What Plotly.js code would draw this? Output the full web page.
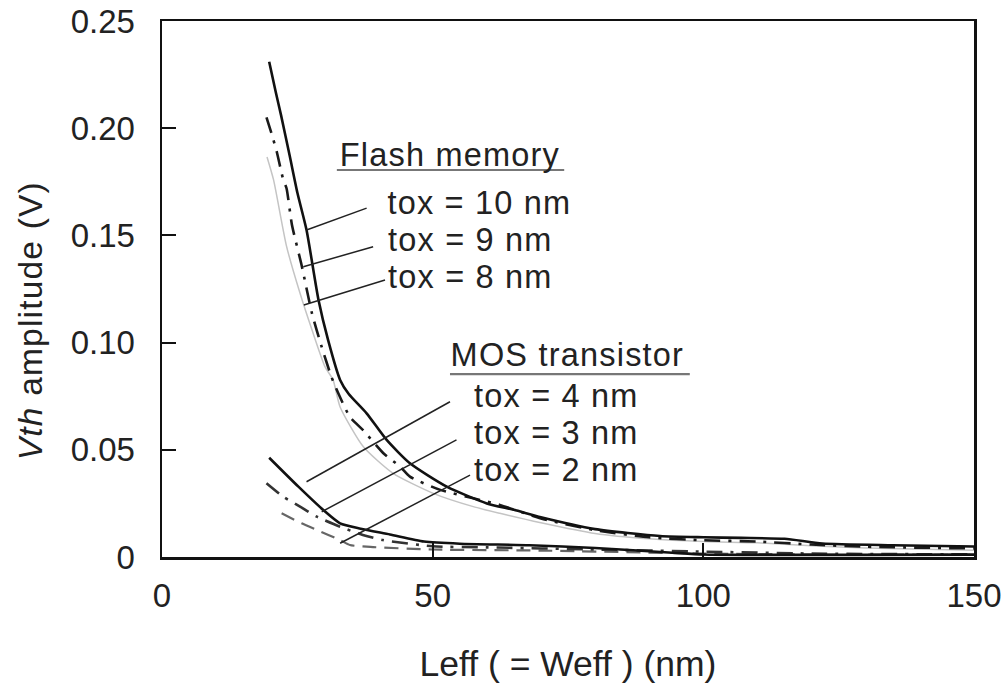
<!DOCTYPE html>
<html>
<head>
<meta charset="utf-8">
<script src="https://cdn.plot.ly/plotly-3.0.1.min.js"></script>
<style>
html,body{margin:0;padding:0;background:#fff;}
#chart{width:1005px;height:684px;}
#chart .annotation-text{letter-spacing:1.2px;}
</style>
</head>
<body>
<div id="chart"></div>
<script>
// Flash memory curves
const flash10_x = [19.8, 21, 22, 23.6, 25, 26.7, 28.9, 30.7, 32.9, 34.5, 37.8, 41.5, 45.8, 52.6, 60, 65, 70, 80, 92, 100, 107, 115, 122, 135, 150];
const flash10_y = [0.231, 0.217, 0.206, 0.187, 0.170, 0.1525, 0.120, 0.101, 0.0826, 0.076, 0.067, 0.0546, 0.0437, 0.0328, 0.025, 0.022, 0.0185, 0.013, 0.0098, 0.0092, 0.0089, 0.0085, 0.0063, 0.0055, 0.0049];

const flash9_x = [19.3, 20.3, 21.2, 22.4, 23.0, 24.0, 25.8, 27.7, 29.5, 31.3, 32.3, 34.7, 37.2, 40.9, 44, 45.8, 51.4, 57.5, 62.4, 70, 80, 90, 100, 110, 120, 130, 150];
const flash9_y = [0.205, 0.197, 0.189, 0.176, 0.172, 0.155, 0.136, 0.1137, 0.098, 0.084, 0.0779, 0.0654, 0.059, 0.0484, 0.0421, 0.0375, 0.0313, 0.0274, 0.0243, 0.018, 0.0125, 0.0092, 0.0078, 0.0072, 0.0058, 0.0048, 0.0040];

const flash8_x = [19.4, 20.6, 23.0, 25.5, 27.7, 30.1, 31.6, 32.9, 37.2, 42.7, 50.1, 57.5, 62.4, 70, 80, 90, 100, 110, 120, 130, 150];
const flash8_y = [0.1866, 0.176, 0.145, 0.123, 0.106, 0.0888, 0.0826, 0.070, 0.0514, 0.039, 0.0297, 0.0235, 0.0204, 0.016, 0.011, 0.0085, 0.0072, 0.0066, 0.0052, 0.0042, 0.0032];

// MOS transistor curves
const mos4_x = [19.8, 25.2, 29.8, 32.9, 36.7, 42.1, 48.4, 55, 67.9, 80, 94.3, 100, 110, 130, 150];
const mos4_y = [0.0463, 0.0328, 0.0219, 0.0157, 0.0132, 0.0105, 0.0072, 0.0062, 0.0055, 0.0042, 0.0020, 0.0012, 0.0010, 0.0010, 0.0011];

const mos3_x = [19.3, 22.4, 25.5, 28.6, 32.9, 37.1, 40.8, 50, 60, 80, 100, 120, 150];
const mos3_y = [0.0344, 0.0281, 0.0235, 0.0188, 0.0141, 0.0103, 0.0079, 0.0050, 0.0045, 0.0035, 0.0025, 0.0016, 0.0012];

const mos2_x = [22.1, 25.8, 28.6, 32.9, 34.7, 37.8, 50, 70, 100, 120, 150];
const mos2_y = [0.0204, 0.0157, 0.0126, 0.0079, 0.0056, 0.0048, 0.0035, 0.0030, 0.0016, 0.0012, 0.0010];

const xTickVals = [0, 50, 100, 150];
const xTickText = ["0", "50", "100", "150"];
const yTickVals = [0, 0.05, 0.10, 0.15, 0.20, 0.25];
const yTickText = ["0", "0.05", "0.10", "0.15", "0.20", "0.25"];

const groupLabels = ["Flash memory", "MOS transistor"];
const seriesLabels = ["tox = 10 nm", "tox = 9 nm", "tox = 8 nm", "tox = 4 nm", "tox = 3 nm", "tox = 2 nm"];
const xTitle = "Leff ( = Weff ) (nm)";
const yTitle = "<i>Vth</i> amplitude (V)";

const FONT = "Liberation Sans, Arial, Helvetica, sans-serif";
const TXT = "#222";

const traces = [
  {x: flash8_x, y: flash8_y, mode: "lines", line: {color: "#c4c4c4", width: 1.5, shape: "spline", smoothing: 0.6}, name: seriesLabels[2]},
  {x: flash9_x, y: flash9_y, mode: "lines", line: {color: "#1a1a1a", width: 2.6, dash: "16px,8px,3px,8px", shape: "spline", smoothing: 0.6}, name: seriesLabels[1]},
  {x: flash10_x, y: flash10_y, mode: "lines", line: {color: "#111", width: 2.6, shape: "spline", smoothing: 0.6}, name: seriesLabels[0]},
  {x: mos2_x, y: mos2_y, mode: "lines", line: {color: "#666", width: 2.2, dash: "14px,8px", shape: "spline", smoothing: 0.6}, name: seriesLabels[5]},
  {x: mos3_x, y: mos3_y, mode: "lines", line: {color: "#333", width: 2.6, dash: "16px,8px,3px,8px", shape: "spline", smoothing: 0.6}, name: seriesLabels[4]},
  {x: mos4_x, y: mos4_y, mode: "lines", line: {color: "#111", width: 2.6, shape: "spline", smoothing: 0.6}, name: seriesLabels[3]}
];

const lf = {family: FONT, size: 32.5, color: TXT};

const annotations = [
  {text: groupLabels[0], x: 32.9, y: 0.1875, xanchor: "left", yanchor: "middle"},
  {text: seriesLabels[0], x: 41.5, y: 0.1650, xanchor: "left", yanchor: "middle"},
  {text: seriesLabels[1], x: 41.5, y: 0.1477, xanchor: "left", yanchor: "middle"},
  {text: seriesLabels[2], x: 41.5, y: 0.1304, xanchor: "left", yanchor: "middle"},
  {text: groupLabels[1], x: 53.6, y: 0.0942, xanchor: "left", yanchor: "middle"},
  {text: seriesLabels[3], x: 57.5, y: 0.0750, xanchor: "left", yanchor: "middle"},
  {text: seriesLabels[4], x: 57.5, y: 0.0578, xanchor: "left", yanchor: "middle"},
  {text: seriesLabels[5], x: 57.5, y: 0.0405, xanchor: "left", yanchor: "middle"}
].map(a => Object.assign({xref: "x", yref: "y", showarrow: false, font: lf, xshift: 6, borderpad: 0}, a));

annotations.push({
  text: yTitle, xref: "paper", yref: "paper", x: -0.1626, y: 0.442,
  xanchor: "center", yanchor: "middle", textangle: -90, showarrow: false,
  font: {family: FONT, size: 33.5, color: TXT}
});

const ln = {color: "#222", width: 1.5};
const shapes = [
  // underlines
  {type: "line", xref: "x", yref: "y", x0: 32.3, x1: 74.3, y0: 0.1805, y1: 0.1805, line: {color: "#777", width: 2.2}},
  {type: "line", xref: "x", yref: "y", x0: 53.2, x1: 97.5, y0: 0.0853, y1: 0.0853, line: {color: "#777", width: 2.2}},
  // leader lines
  {type: "line", xref: "x", yref: "y", x0: 26.7, y0: 0.1525, x1: 37.8, y1: 0.1627, line: ln},
  {type: "line", xref: "x", yref: "y", x0: 26.1, y0: 0.1354, x1: 39.0, y1: 0.1447, line: ln},
  {type: "line", xref: "x", yref: "y", x0: 26.2, y0: 0.1175, x1: 41.2, y1: 0.1292, line: ln},
  {type: "line", xref: "x", yref: "y", x0: 26.7, y0: 0.0351, x1: 53.2, y1: 0.0724, line: ln},
  {type: "line", xref: "x", yref: "y", x0: 29.5, y0: 0.0211, x1: 54.4, y1: 0.0546, line: ln},
  {type: "line", xref: "x", yref: "y", x0: 32.9, y0: 0.0064, x1: 56.9, y1: 0.0382, line: ln}
];

const layout = {
  width: 1005, height: 684,
  margin: {l: 162, r: 31, t: 21, b: 127},
  paper_bgcolor: "#fff", plot_bgcolor: "#fff",
  showlegend: false,
  font: {family: FONT, color: TXT, size: 33},
  xaxis: {
    range: [0, 150], tickvals: xTickVals, ticktext: xTickText,
    ticks: "inside", ticklen: 14, tickwidth: 2, tickcolor: "#111",
    showline: true, linecolor: "#111", linewidth: 2.5, mirror: true,
    showgrid: false, zeroline: false,
    tickfont: {family: FONT, size: 33, color: TXT}, ticklabelstandoff: 8,
    title: {text: xTitle, font: {family: FONT, size: 35.5, color: TXT}, standoff: 38}
  },
  yaxis: {
    range: [0, 0.25], tickvals: yTickVals, ticktext: yTickText,
    ticks: "inside", ticklen: 14, tickwidth: 2, tickcolor: "#111",
    showline: true, linecolor: "#111", linewidth: 2.5, mirror: true,
    showgrid: false, zeroline: false,
    tickfont: {family: FONT, size: 33, color: TXT}, ticklabelstandoff: 18
  },
  annotations: annotations,
  shapes: shapes
};

Plotly.newPlot("chart", traces, layout, {displayModeBar: false, staticPlot: true});
</script>
</body>
</html>
